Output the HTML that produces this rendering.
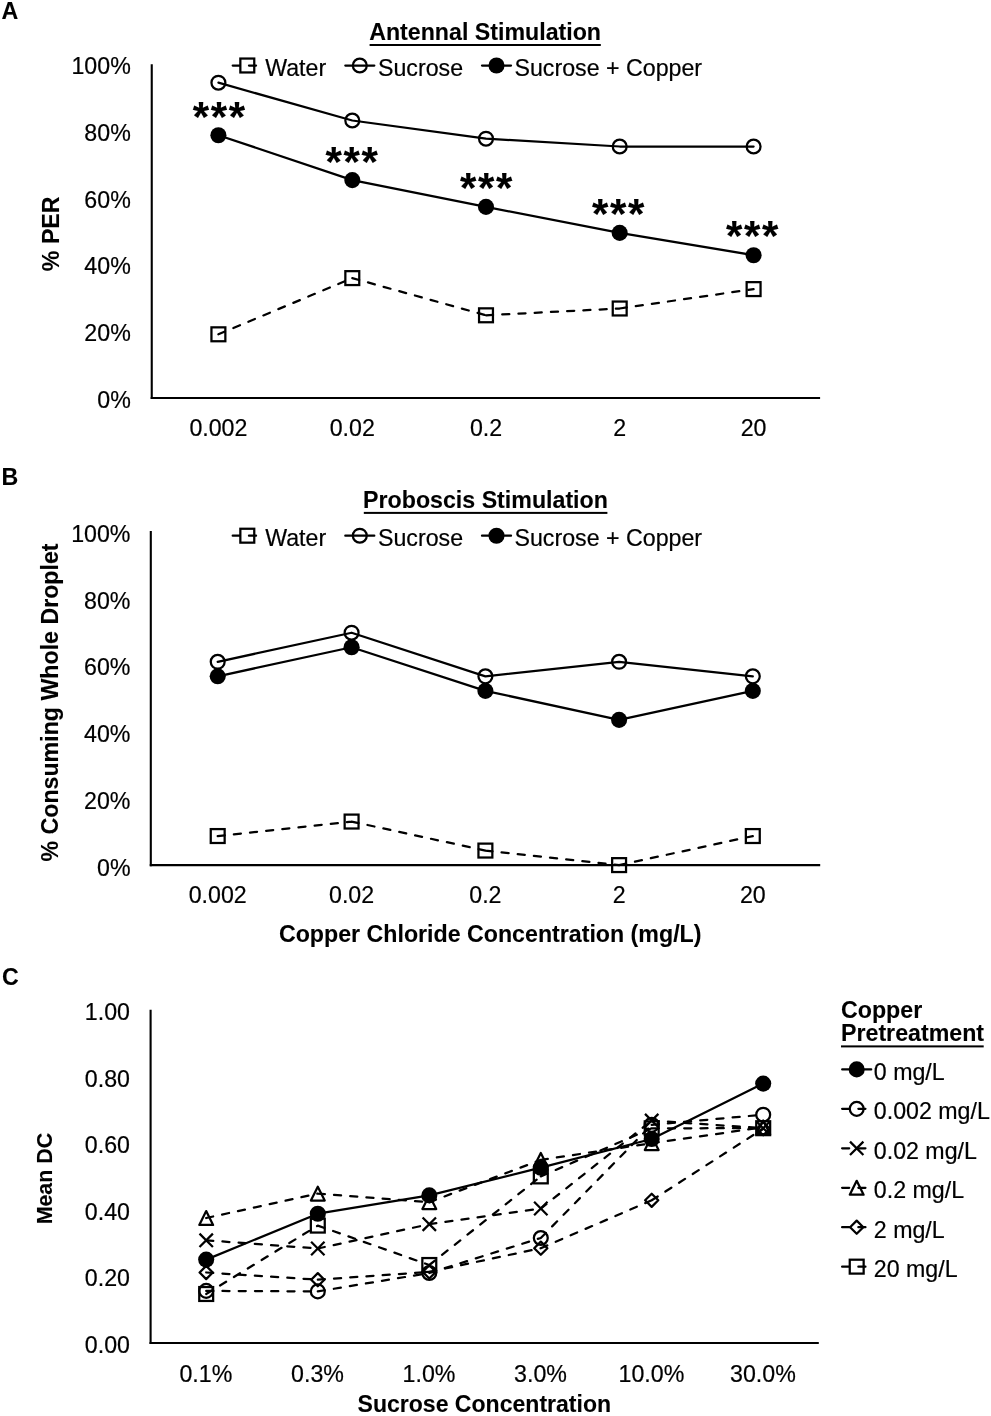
<!DOCTYPE html>
<html lang="en">
<head>
<meta charset="utf-8">
<title>Figure: PER and sucrose responsiveness after copper exposure</title>
<style>
html,body{margin:0;padding:0;background:#fff;}
body{width:991px;height:1416px;overflow:hidden;}
svg{display:block;}
text{font-family:"Liberation Sans",sans-serif;fill:#000;}
text.b{font-weight:700;stroke:#000;stroke-width:0.1px;stroke-linejoin:round;}
text.r{font-weight:400;stroke:#000;stroke-width:0.2px;stroke-linejoin:round;}
</style>
</head>
<body>
<svg width="991" height="1416" viewBox="0 0 991 1416" role="img" aria-label="Three-panel figure: antennal stimulation, proboscis stimulation and sucrose responsiveness">
<rect width="991" height="1416" fill="#fff"/>
<text class="b" x="1.60" y="19.30" font-size="23.2" text-anchor="start">A</text>
<text class="b" x="1.60" y="485.10" font-size="23.2" text-anchor="start">B</text>
<text class="b" x="1.90" y="985.00" font-size="23.2" text-anchor="start">C</text>
<line x1="151.75" y1="64.20" x2="151.75" y2="399.05" stroke="#000" stroke-width="2.1" stroke-linecap="butt"/>
<line x1="150.70" y1="398.00" x2="820.10" y2="398.00" stroke="#000" stroke-width="2.1" stroke-linecap="butt"/>
<text class="r" x="130.78" y="74.15" font-size="23.2" text-anchor="end">100%</text>
<text class="r" x="130.78" y="140.91" font-size="23.2" text-anchor="end">80%</text>
<text class="r" x="130.78" y="207.67" font-size="23.2" text-anchor="end">60%</text>
<text class="r" x="130.78" y="274.43" font-size="23.2" text-anchor="end">40%</text>
<text class="r" x="130.78" y="341.19" font-size="23.2" text-anchor="end">20%</text>
<text class="r" x="130.78" y="407.95" font-size="23.2" text-anchor="end">0%</text>
<text class="r" x="218.40" y="436.00" font-size="23.2" text-anchor="middle">0.002</text>
<text class="r" x="352.30" y="436.00" font-size="23.2" text-anchor="middle">0.02</text>
<text class="r" x="486.00" y="436.00" font-size="23.2" text-anchor="middle">0.2</text>
<text class="r" x="619.70" y="436.00" font-size="23.2" text-anchor="middle">2</text>
<text class="r" x="753.60" y="436.00" font-size="23.2" text-anchor="middle">20</text>
<text class="b" x="485.10" y="39.90" font-size="23.2" text-anchor="middle">Antennal Stimulation</text>
<rect x="369.60" y="44.00" width="231.20" height="2.0" fill="#000"/>
<line x1="232.70" y1="65.50" x2="262.80" y2="65.50" stroke="#000" stroke-width="2.25" stroke-linecap="round" stroke-dasharray="7.1 9.15"/>
<rect x="240.35" y="58.55" width="13.90" height="13.90" fill="none" stroke="#000" stroke-width="2.25" stroke-linejoin="miter"/>
<text class="r" x="265.20" y="75.50" font-size="23.2" text-anchor="start">Water</text>
<line x1="345.30" y1="65.50" x2="374.30" y2="65.50" stroke="#000" stroke-width="2.25" stroke-linecap="round"/>
<circle cx="359.80" cy="65.50" r="6.95" fill="none" stroke="#000" stroke-width="2.25"/>
<text class="r" x="378.00" y="75.50" font-size="23.2" text-anchor="start">Sucrose</text>
<line x1="482.00" y1="65.50" x2="511.00" y2="65.50" stroke="#000" stroke-width="2.25" stroke-linecap="round"/>
<circle cx="496.50" cy="65.50" r="8.05" fill="#000"/>
<text class="r" x="514.50" y="75.50" font-size="23.2" text-anchor="start">Sucrose + Copper</text>
<text class="b" x="59.00" y="233.80" font-size="23.2" text-anchor="middle" transform="rotate(-90 59.00 233.80)">% PER</text>
<polyline points="218.40,82.70 352.30,120.50 486.00,138.70 619.70,146.50 753.60,146.50" fill="none" stroke="#000" stroke-width="2.25" stroke-linecap="round" stroke-linejoin="round"/>
<polyline points="218.40,135.20 352.30,180.10 486.00,206.90 619.70,232.90 753.60,255.20" fill="none" stroke="#000" stroke-width="2.25" stroke-linecap="round" stroke-linejoin="round"/>
<path d="M218.40 334.30L352.30 278.10 M352.30 278.10L486.00 315.30 M486.00 315.30L619.70 308.50 M619.70 308.50L753.60 289.10" fill="none" stroke="#000" stroke-width="2.25" stroke-linecap="round" stroke-dasharray="7.1 9.15"/>
<circle cx="218.40" cy="82.70" r="6.95" fill="none" stroke="#000" stroke-width="2.25"/>
<circle cx="352.30" cy="120.50" r="6.95" fill="none" stroke="#000" stroke-width="2.25"/>
<circle cx="486.00" cy="138.70" r="6.95" fill="none" stroke="#000" stroke-width="2.25"/>
<circle cx="619.70" cy="146.50" r="6.95" fill="none" stroke="#000" stroke-width="2.25"/>
<circle cx="753.60" cy="146.50" r="6.95" fill="none" stroke="#000" stroke-width="2.25"/>
<circle cx="218.40" cy="135.20" r="8.05" fill="#000"/>
<circle cx="352.30" cy="180.10" r="8.05" fill="#000"/>
<circle cx="486.00" cy="206.90" r="8.05" fill="#000"/>
<circle cx="619.70" cy="232.90" r="8.05" fill="#000"/>
<circle cx="753.60" cy="255.20" r="8.05" fill="#000"/>
<rect x="211.45" y="327.35" width="13.90" height="13.90" fill="none" stroke="#000" stroke-width="2.25" stroke-linejoin="miter"/>
<rect x="345.35" y="271.15" width="13.90" height="13.90" fill="none" stroke="#000" stroke-width="2.25" stroke-linejoin="miter"/>
<rect x="479.05" y="308.35" width="13.90" height="13.90" fill="none" stroke="#000" stroke-width="2.25" stroke-linejoin="miter"/>
<rect x="612.75" y="301.55" width="13.90" height="13.90" fill="none" stroke="#000" stroke-width="2.25" stroke-linejoin="miter"/>
<rect x="746.65" y="282.15" width="13.90" height="13.90" fill="none" stroke="#000" stroke-width="2.25" stroke-linejoin="miter"/>
<text class="b" font-size="42" x="192.70 210.70 228.70" y="130.97">***</text>
<text class="b" font-size="42" x="325.60 343.60 361.60" y="176.07">***</text>
<text class="b" font-size="42" x="460.10 478.10 496.10" y="201.67">***</text>
<text class="b" font-size="42" x="591.90 609.90 627.90" y="227.77">***</text>
<text class="b" font-size="42" x="725.90 743.90 761.90" y="250.37">***</text>
<line x1="150.80" y1="531.10" x2="150.80" y2="866.15" stroke="#000" stroke-width="2.1" stroke-linecap="butt"/>
<line x1="149.75" y1="865.10" x2="820.20" y2="865.10" stroke="#000" stroke-width="2.1" stroke-linecap="butt"/>
<text class="r" x="130.50" y="541.70" font-size="23.2" text-anchor="end">100%</text>
<text class="r" x="130.50" y="608.50" font-size="23.2" text-anchor="end">80%</text>
<text class="r" x="130.50" y="675.30" font-size="23.2" text-anchor="end">60%</text>
<text class="r" x="130.50" y="742.10" font-size="23.2" text-anchor="end">40%</text>
<text class="r" x="130.50" y="808.90" font-size="23.2" text-anchor="end">20%</text>
<text class="r" x="130.50" y="875.70" font-size="23.2" text-anchor="end">0%</text>
<text class="r" x="217.70" y="902.80" font-size="23.2" text-anchor="middle">0.002</text>
<text class="r" x="351.60" y="902.80" font-size="23.2" text-anchor="middle">0.02</text>
<text class="r" x="485.40" y="902.80" font-size="23.2" text-anchor="middle">0.2</text>
<text class="r" x="619.10" y="902.80" font-size="23.2" text-anchor="middle">2</text>
<text class="r" x="752.80" y="902.80" font-size="23.2" text-anchor="middle">20</text>
<text class="b" x="485.50" y="507.60" font-size="23.2" text-anchor="middle">Proboscis Stimulation</text>
<rect x="363.80" y="511.90" width="243.60" height="2.0" fill="#000"/>
<line x1="232.70" y1="535.70" x2="262.80" y2="535.70" stroke="#000" stroke-width="2.25" stroke-linecap="round" stroke-dasharray="7.1 9.15"/>
<rect x="240.35" y="528.75" width="13.90" height="13.90" fill="none" stroke="#000" stroke-width="2.25" stroke-linejoin="miter"/>
<text class="r" x="265.20" y="545.70" font-size="23.2" text-anchor="start">Water</text>
<line x1="345.30" y1="535.70" x2="374.30" y2="535.70" stroke="#000" stroke-width="2.25" stroke-linecap="round"/>
<circle cx="359.80" cy="535.70" r="6.95" fill="none" stroke="#000" stroke-width="2.25"/>
<text class="r" x="378.00" y="545.70" font-size="23.2" text-anchor="start">Sucrose</text>
<line x1="482.00" y1="535.70" x2="511.00" y2="535.70" stroke="#000" stroke-width="2.25" stroke-linecap="round"/>
<circle cx="496.50" cy="535.70" r="8.05" fill="#000"/>
<text class="r" x="514.50" y="545.70" font-size="23.2" text-anchor="start">Sucrose + Copper</text>
<text class="b" x="57.50" y="702.50" font-size="23.2" text-anchor="middle" transform="rotate(-90 57.50 702.50)">% Consuming Whole Droplet</text>
<polyline points="217.70,661.79 351.60,632.74 485.40,676.32 619.10,661.79 752.80,676.32" fill="none" stroke="#000" stroke-width="2.25" stroke-linecap="round" stroke-linejoin="round"/>
<polyline points="217.70,676.32 351.60,647.27 485.40,690.85 619.10,719.88 752.80,690.85" fill="none" stroke="#000" stroke-width="2.25" stroke-linecap="round" stroke-linejoin="round"/>
<path d="M217.70 836.04L351.60 821.55 M351.60 821.55L485.40 850.57 M485.40 850.57L619.10 865.10 M619.10 865.10L752.80 836.04" fill="none" stroke="#000" stroke-width="2.25" stroke-linecap="round" stroke-dasharray="7.1 9.15"/>
<circle cx="217.70" cy="661.79" r="6.95" fill="none" stroke="#000" stroke-width="2.25"/>
<circle cx="351.60" cy="632.74" r="6.95" fill="none" stroke="#000" stroke-width="2.25"/>
<circle cx="485.40" cy="676.32" r="6.95" fill="none" stroke="#000" stroke-width="2.25"/>
<circle cx="619.10" cy="661.79" r="6.95" fill="none" stroke="#000" stroke-width="2.25"/>
<circle cx="752.80" cy="676.32" r="6.95" fill="none" stroke="#000" stroke-width="2.25"/>
<circle cx="217.70" cy="676.32" r="8.05" fill="#000"/>
<circle cx="351.60" cy="647.27" r="8.05" fill="#000"/>
<circle cx="485.40" cy="690.85" r="8.05" fill="#000"/>
<circle cx="619.10" cy="719.88" r="8.05" fill="#000"/>
<circle cx="752.80" cy="690.85" r="8.05" fill="#000"/>
<rect x="210.75" y="829.09" width="13.90" height="13.90" fill="none" stroke="#000" stroke-width="2.25" stroke-linejoin="miter"/>
<rect x="344.65" y="814.60" width="13.90" height="13.90" fill="none" stroke="#000" stroke-width="2.25" stroke-linejoin="miter"/>
<rect x="478.45" y="843.62" width="13.90" height="13.90" fill="none" stroke="#000" stroke-width="2.25" stroke-linejoin="miter"/>
<rect x="612.15" y="858.15" width="13.90" height="13.90" fill="none" stroke="#000" stroke-width="2.25" stroke-linejoin="miter"/>
<rect x="745.85" y="829.09" width="13.90" height="13.90" fill="none" stroke="#000" stroke-width="2.25" stroke-linejoin="miter"/>
<text class="b" x="490.20" y="942.00" font-size="23.2" text-anchor="middle">Copper Chloride Concentration (mg/L)</text>
<line x1="150.60" y1="1009.80" x2="150.60" y2="1344.05" stroke="#000" stroke-width="2.1" stroke-linecap="butt"/>
<line x1="149.55" y1="1343.00" x2="818.80" y2="1343.00" stroke="#000" stroke-width="2.1" stroke-linecap="butt"/>
<text class="r" x="130.00" y="1019.90" font-size="23.2" text-anchor="end">1.00</text>
<text class="r" x="130.00" y="1086.54" font-size="23.2" text-anchor="end">0.80</text>
<text class="r" x="130.00" y="1153.18" font-size="23.2" text-anchor="end">0.60</text>
<text class="r" x="130.00" y="1219.82" font-size="23.2" text-anchor="end">0.40</text>
<text class="r" x="130.00" y="1286.46" font-size="23.2" text-anchor="end">0.20</text>
<text class="r" x="130.00" y="1353.10" font-size="23.2" text-anchor="end">0.00</text>
<text class="r" x="205.90" y="1381.80" font-size="23.2" text-anchor="middle">0.1%</text>
<text class="r" x="317.50" y="1381.80" font-size="23.2" text-anchor="middle">0.3%</text>
<text class="r" x="429.00" y="1381.80" font-size="23.2" text-anchor="middle">1.0%</text>
<text class="r" x="540.50" y="1381.80" font-size="23.2" text-anchor="middle">3.0%</text>
<text class="r" x="651.40" y="1381.80" font-size="23.2" text-anchor="middle">10.0%</text>
<text class="r" x="762.90" y="1381.80" font-size="23.2" text-anchor="middle">30.0%</text>
<text class="b" x="52.00" y="1178.60" font-size="21.4" text-anchor="middle" transform="rotate(-90 52.00 1178.60)">Mean DC</text>
<text class="b" x="484.30" y="1412.20" font-size="23.05" text-anchor="middle">Sucrose Concentration</text>
<polyline points="206.20,1259.60 317.80,1213.70 429.30,1195.40 540.80,1167.70 651.70,1139.00 763.20,1083.60" fill="none" stroke="#000" stroke-width="2.25" stroke-linecap="round" stroke-linejoin="round"/>
<path d="M206.20 1290.90L317.80 1291.40 M317.80 1291.40L429.30 1273.00 M429.30 1273.00L540.80 1238.00 M540.80 1238.00L651.70 1124.80 M651.70 1124.80L763.20 1114.70" fill="none" stroke="#000" stroke-width="2.25" stroke-linecap="round" stroke-dasharray="7.1 9.15"/>
<path d="M206.20 1240.30L317.80 1248.50 M317.80 1248.50L429.30 1224.20 M429.30 1224.20L540.80 1208.50 M540.80 1208.50L651.70 1120.60 M651.70 1120.60L763.20 1128.20" fill="none" stroke="#000" stroke-width="2.25" stroke-linecap="round" stroke-dasharray="7.1 9.15"/>
<path d="M206.20 1218.00L317.80 1193.60 M317.80 1193.60L429.30 1202.20 M429.30 1202.20L540.80 1159.90 M540.80 1159.90L651.70 1143.20 M651.70 1143.20L763.20 1127.30" fill="none" stroke="#000" stroke-width="2.25" stroke-linecap="round" stroke-dasharray="7.1 9.15"/>
<path d="M206.20 1272.50L317.80 1279.70 M317.80 1279.70L429.30 1271.90 M429.30 1271.90L540.80 1248.20 M540.80 1248.20L651.70 1200.30 M651.70 1200.30L763.20 1128.70" fill="none" stroke="#000" stroke-width="2.25" stroke-linecap="round" stroke-dasharray="7.1 9.15"/>
<path d="M206.20 1294.00L317.80 1225.60 M317.80 1225.60L429.30 1265.00 M429.30 1265.00L540.80 1176.40 M540.80 1176.40L651.70 1128.30 M651.70 1128.30L763.20 1128.20" fill="none" stroke="#000" stroke-width="2.25" stroke-linecap="round" stroke-dasharray="7.1 9.15"/>
<circle cx="206.20" cy="1259.60" r="8.05" fill="#000"/>
<circle cx="317.80" cy="1213.70" r="8.05" fill="#000"/>
<circle cx="429.30" cy="1195.40" r="8.05" fill="#000"/>
<circle cx="540.80" cy="1167.70" r="8.05" fill="#000"/>
<circle cx="651.70" cy="1139.00" r="8.05" fill="#000"/>
<circle cx="763.20" cy="1083.60" r="8.05" fill="#000"/>
<circle cx="206.20" cy="1290.90" r="6.95" fill="none" stroke="#000" stroke-width="2.25"/>
<circle cx="317.80" cy="1291.40" r="6.95" fill="none" stroke="#000" stroke-width="2.25"/>
<circle cx="429.30" cy="1273.00" r="6.95" fill="none" stroke="#000" stroke-width="2.25"/>
<circle cx="540.80" cy="1238.00" r="6.95" fill="none" stroke="#000" stroke-width="2.25"/>
<circle cx="651.70" cy="1124.80" r="6.95" fill="none" stroke="#000" stroke-width="2.25"/>
<circle cx="763.20" cy="1114.70" r="6.95" fill="none" stroke="#000" stroke-width="2.25"/>
<path d="M199.50 1233.60L212.90 1247.00M199.50 1247.00L212.90 1233.60" fill="none" stroke="#000" stroke-width="2.25" stroke-linecap="butt"/>
<path d="M311.10 1241.80L324.50 1255.20M311.10 1255.20L324.50 1241.80" fill="none" stroke="#000" stroke-width="2.25" stroke-linecap="butt"/>
<path d="M422.60 1217.50L436.00 1230.90M422.60 1230.90L436.00 1217.50" fill="none" stroke="#000" stroke-width="2.25" stroke-linecap="butt"/>
<path d="M534.10 1201.80L547.50 1215.20M534.10 1215.20L547.50 1201.80" fill="none" stroke="#000" stroke-width="2.25" stroke-linecap="butt"/>
<path d="M645.00 1113.90L658.40 1127.30M645.00 1127.30L658.40 1113.90" fill="none" stroke="#000" stroke-width="2.25" stroke-linecap="butt"/>
<path d="M756.50 1121.50L769.90 1134.90M756.50 1134.90L769.90 1121.50" fill="none" stroke="#000" stroke-width="2.25" stroke-linecap="butt"/>
<path d="M206.20 1211.10L213.10 1224.90L199.30 1224.90Z" fill="none" stroke="#000" stroke-width="2.25" stroke-linejoin="round"/>
<path d="M317.80 1186.70L324.70 1200.50L310.90 1200.50Z" fill="none" stroke="#000" stroke-width="2.25" stroke-linejoin="round"/>
<path d="M429.30 1195.30L436.20 1209.10L422.40 1209.10Z" fill="none" stroke="#000" stroke-width="2.25" stroke-linejoin="round"/>
<path d="M540.80 1153.00L547.70 1166.80L533.90 1166.80Z" fill="none" stroke="#000" stroke-width="2.25" stroke-linejoin="round"/>
<path d="M651.70 1136.30L658.60 1150.10L644.80 1150.10Z" fill="none" stroke="#000" stroke-width="2.25" stroke-linejoin="round"/>
<path d="M763.20 1120.40L770.10 1134.20L756.30 1134.20Z" fill="none" stroke="#000" stroke-width="2.25" stroke-linejoin="round"/>
<path d="M206.20 1265.90L212.80 1272.50L206.20 1279.10L199.60 1272.50Z" fill="none" stroke="#000" stroke-width="2.25" stroke-linejoin="round"/>
<path d="M317.80 1273.10L324.40 1279.70L317.80 1286.30L311.20 1279.70Z" fill="none" stroke="#000" stroke-width="2.25" stroke-linejoin="round"/>
<path d="M429.30 1265.30L435.90 1271.90L429.30 1278.50L422.70 1271.90Z" fill="none" stroke="#000" stroke-width="2.25" stroke-linejoin="round"/>
<path d="M540.80 1241.60L547.40 1248.20L540.80 1254.80L534.20 1248.20Z" fill="none" stroke="#000" stroke-width="2.25" stroke-linejoin="round"/>
<path d="M651.70 1193.70L658.30 1200.30L651.70 1206.90L645.10 1200.30Z" fill="none" stroke="#000" stroke-width="2.25" stroke-linejoin="round"/>
<path d="M763.20 1122.10L769.80 1128.70L763.20 1135.30L756.60 1128.70Z" fill="none" stroke="#000" stroke-width="2.25" stroke-linejoin="round"/>
<rect x="199.25" y="1287.05" width="13.90" height="13.90" fill="none" stroke="#000" stroke-width="2.25" stroke-linejoin="miter"/>
<rect x="310.85" y="1218.65" width="13.90" height="13.90" fill="none" stroke="#000" stroke-width="2.25" stroke-linejoin="miter"/>
<rect x="422.35" y="1258.05" width="13.90" height="13.90" fill="none" stroke="#000" stroke-width="2.25" stroke-linejoin="miter"/>
<rect x="533.85" y="1169.45" width="13.90" height="13.90" fill="none" stroke="#000" stroke-width="2.25" stroke-linejoin="miter"/>
<rect x="644.75" y="1121.35" width="13.90" height="13.90" fill="none" stroke="#000" stroke-width="2.25" stroke-linejoin="miter"/>
<rect x="756.25" y="1121.25" width="13.90" height="13.90" fill="none" stroke="#000" stroke-width="2.25" stroke-linejoin="miter"/>
<text class="b" x="841.00" y="1017.50" font-size="23.2" text-anchor="start">Copper</text>
<text class="b" x="841.00" y="1041.30" font-size="23.2" text-anchor="start">Pretreatment</text>
<rect x="841.00" y="1045.40" width="142.70" height="2.0" fill="#000"/>
<line x1="842.20" y1="1069.40" x2="871.20" y2="1069.40" stroke="#000" stroke-width="2.25" stroke-linecap="round"/>
<circle cx="856.70" cy="1069.40" r="8.05" fill="#000"/>
<text class="r" x="873.80" y="1079.60" font-size="23.2" text-anchor="start">0 mg/L</text>
<line x1="842.10" y1="1108.85" x2="872.20" y2="1108.85" stroke="#000" stroke-width="2.25" stroke-linecap="round" stroke-dasharray="7.1 9.15"/>
<circle cx="856.70" cy="1108.85" r="6.95" fill="none" stroke="#000" stroke-width="2.25"/>
<text class="r" x="873.80" y="1119.15" font-size="23.2" text-anchor="start">0.002 mg/L</text>
<line x1="842.10" y1="1148.30" x2="872.20" y2="1148.30" stroke="#000" stroke-width="2.25" stroke-linecap="round" stroke-dasharray="7.1 9.15"/>
<path d="M850.00 1141.60L863.40 1155.00M850.00 1155.00L863.40 1141.60" fill="none" stroke="#000" stroke-width="2.25" stroke-linecap="butt"/>
<text class="r" x="873.80" y="1158.70" font-size="23.2" text-anchor="start">0.02 mg/L</text>
<line x1="842.10" y1="1187.75" x2="872.20" y2="1187.75" stroke="#000" stroke-width="2.25" stroke-linecap="round" stroke-dasharray="7.1 9.15"/>
<path d="M856.70 1180.85L863.60 1194.65L849.80 1194.65Z" fill="none" stroke="#000" stroke-width="2.25" stroke-linejoin="round"/>
<text class="r" x="873.80" y="1198.25" font-size="23.2" text-anchor="start">0.2 mg/L</text>
<line x1="842.10" y1="1227.20" x2="872.20" y2="1227.20" stroke="#000" stroke-width="2.25" stroke-linecap="round" stroke-dasharray="7.1 9.15"/>
<path d="M856.70 1220.60L863.30 1227.20L856.70 1233.80L850.10 1227.20Z" fill="none" stroke="#000" stroke-width="2.25" stroke-linejoin="round"/>
<text class="r" x="873.80" y="1237.80" font-size="23.2" text-anchor="start">2 mg/L</text>
<line x1="842.10" y1="1266.65" x2="872.20" y2="1266.65" stroke="#000" stroke-width="2.25" stroke-linecap="round" stroke-dasharray="7.1 9.15"/>
<rect x="849.75" y="1259.70" width="13.90" height="13.90" fill="none" stroke="#000" stroke-width="2.25" stroke-linejoin="miter"/>
<text class="r" x="873.80" y="1277.35" font-size="23.2" text-anchor="start">20 mg/L</text>
</svg>
</body>
</html>
